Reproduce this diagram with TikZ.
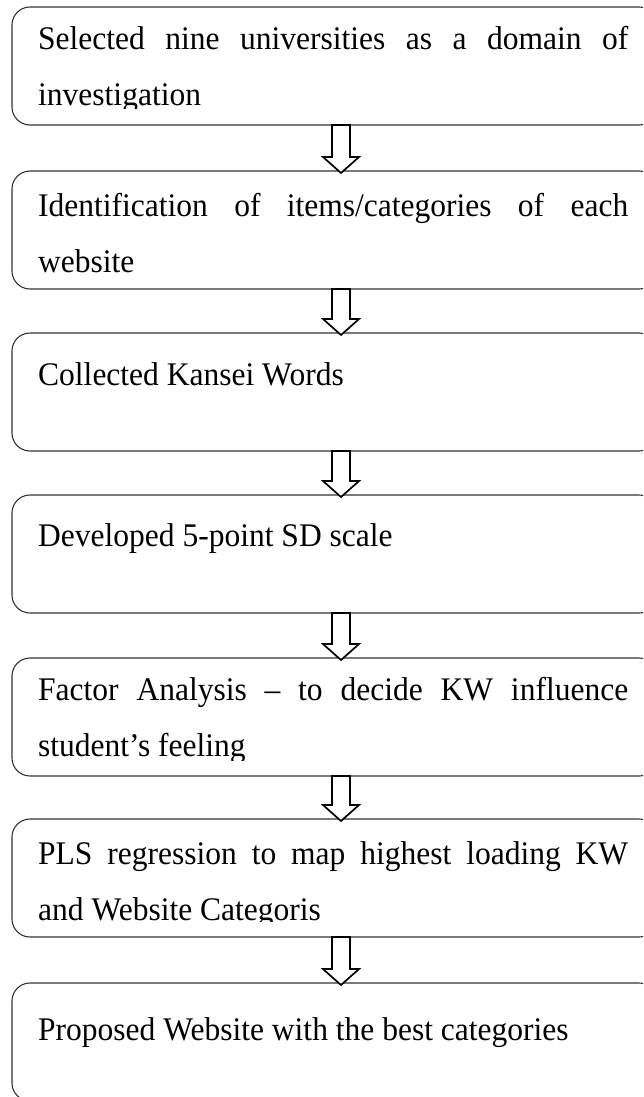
\documentclass[tikz,border=0pt]{standalone}
\usepackage{fontspec}
\setmainfont{Liberation Serif}[FakeStretch=0.955]
\usetikzlibrary{calc}

\tikzset{
  stage/.style={draw=black!80, line width=1.1pt, rounded corners=18pt,
                minimum width=645pt, minimum height=118pt, inner sep=0pt,
                outer sep=0pt, anchor=north west},
  blockarrow/.style={draw=black, line width=1.7pt, fill=white, line join=miter},
  lbl/.style={inner sep=0pt, anchor=base west, align=left,
              font=\fontsize{33}{56}\selectfont},
}
% one fully justified line of a stage text
\newcommand{\jline}[1]{\noindent\makebox[590pt][s]{#1}\par}
% hollow block arrow from the bottom of one stage to the top of the next
\newcommand{\flowarrow}[2]{%
  \draw[blockarrow] let \p1=(#1.south), \p2=(#2.north) in
    (332pt,\y1) -- (332pt,\y2+14pt) -- (323pt,\y2+14pt) -- (341pt,\y2-2pt)
    -- (359pt,\y2+14pt) -- (350pt,\y2+14pt) -- (350pt,\y1) -- cycle;}
% stage text, clipped to the inside of its box
\newcommand{\stagetext}[4]{%
  \begin{scope}
    \clip (#2.north west) rectangle ([yshift=16pt]#2.south east);
    \node[lbl] (#1) at (38pt,#3) {\vtop{\hsize=590pt #4}};
  \end{scope}}

\begin{document}
\begin{tikzpicture}[x=1pt,y=1pt]
  \useasboundingbox (0,0) rectangle (643,-1097);
  \clip (0,0) rectangle (643,-1097);

  % stages
  \node[stage] (b1) at (12,-7)   {};
  \node[stage] (b2) at (12,-171) {};
  \node[stage] (b3) at (12,-333) {};
  \node[stage] (b4) at (12,-495) {};
  \node[stage] (b5) at (12,-658) {};
  \node[stage] (b6) at (12,-819) {};
  \node[stage] (b7) at (12,-983) {};

  % texts
  \stagetext{t1}{b1}{-50pt}{\jline{Selected nine universities as a domain of}\noindent investigation}
  \stagetext{t2}{b2}{-216pt}{\jline{Identification of items/categories of each}\noindent website}
  \stagetext{t3}{b3}{-385pt}{\noindent Collected Kansei Words}
  \stagetext{t4}{b4}{-546pt}{\noindent Developed 5-point SD scale}
  \stagetext{t5}{b5}{-700pt}{\jline{Factor Analysis – to decide KW influence}\noindent student’s feeling}
  \stagetext{t6}{b6}{-864pt}{\jline{PLS regression to map highest loading KW}\noindent and Website Categoris}
  \stagetext{t7}{b7}{-1040pt}{\noindent Proposed Website with the best categories}

  % arrows
  \flowarrow{b1}{b2}
  \flowarrow{b2}{b3}
  \flowarrow{b3}{b4}
  \flowarrow{b4}{b5}
  \flowarrow{b5}{b6}
  \flowarrow{b6}{b7}
\end{tikzpicture}
\end{document}
